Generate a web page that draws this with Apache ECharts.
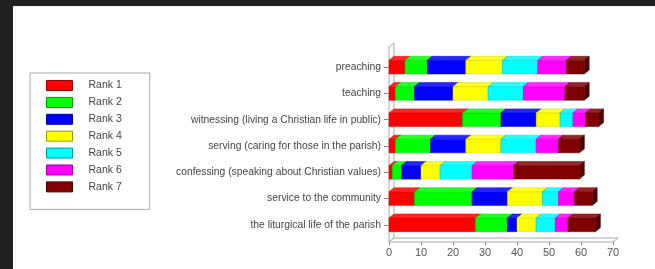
<!DOCTYPE html>
<html>
<head>
<meta charset="utf-8">
<script src="https://cdn.jsdelivr.net/npm/echarts@6/dist/echarts.min.js"></script>
<style>
  html, body { margin: 0; padding: 0; background: #202020; }
  #paper { position: absolute; left: 13px; top: 6px; width: 642px; height: 263px; background: #fff; }
  #main { position: absolute; left: 0; top: 0; width: 655px; height: 269px; }
</style>
</head>
<body>
<div id="paper"></div>
<div id="main"></div>
<script>
var categories = [
  'preaching',
  'teaching',
  'witnessing (living a Christian life in public)',
  'serving (caring for those in the parish)',
  'confessing (speaking about Christian values)',
  'service to the community',
  'the liturgical life of the parish'
];
var rank1 = [5, 2, 23, 2, 1, 8, 27];
var rank2 = [7, 6, 12, 11, 3, 18, 10];
var rank3 = [12, 12, 11, 11, 6, 11, 3];
var rank4 = [11.5, 11, 7.5, 11, 6, 11, 6];
var rank5 = [11, 11, 4, 11, 10, 5, 6];
var rank6 = [9, 13, 4, 7, 13, 5, 4];
var rank7 = [5.5, 6, 4, 6.5, 20.5, 5.5, 8.5];
var rankNames = ['Rank 1', 'Rank 2', 'Rank 3', 'Rank 4', 'Rank 5', 'Rank 6', 'Rank 7'];
var colors = ['#ff0000', '#00ff00', '#0000ff', '#ffff00', '#00ffff', '#ff00ff', '#800000'];
var xTicks = [0, 10, 20, 30, 40, 50, 60, 70];

var DX = 5, DY = 4;  // depth of the fake 3d

function shade(hex, k) {
  var n = parseInt(hex.slice(1), 16);
  var r = (n >> 16) & 255, g = (n >> 8) & 255, b = n & 255;
  function f(c) { return Math.max(0, Math.min(255, Math.round(k > 0 ? c + (255 - c) * k : c * (1 + k)))); }
  return 'rgb(' + f(r) + ',' + f(g) + ',' + f(b) + ')';
}

var myChart = echarts.init(document.getElementById('main'));

var allRanks = [rank1, rank2, rank3, rank4, rank5, rank6, rank7];
var base = categories.map(function () { return 0; });
var series = [];

// wall + floor drawn from the grid rect
series.push({
  type: 'custom',
  silent: true,
  z: 1,
  data: [[0, 0]],
  renderItem: function (params, api) {
    var cs = params.coordSys;
    var x = cs.x, y = cs.y - 7, b = cs.y + cs.height + 4, r = cs.x + cs.width;
    var st = { fill: '#fafafa', stroke: '#aaa', lineWidth: 1 };
    return {
      type: 'group',
      children: [
        { type: 'polygon', shape: { points: [[x, y], [x + DX, y - DY], [x + DX, b - DY], [x, b]] }, style: st },
        { type: 'polygon', shape: { points: [[x, b], [x + DX, b - DY], [r + DX, b - DY], [r, b]] }, style: st }
      ]
    };
  }
});

allRanks.forEach(function (vals, si) {
  var col = colors[si];
  var data = vals.map(function (v, ci) {
    var d = [v, ci, base[ci]];
    base[ci] += v;
    return d;
  });
  series.push({
    name: rankNames[si],
    type: 'custom',
    z: 2,
    itemStyle: { color: col },
    data: data,
    renderItem: function (params, api) {
      var v = api.value(0), c = api.value(1), s = api.value(2);
      var p0 = api.coord([s, c]);
      var p1 = api.coord([s + v, c]);
      var h = api.size([0, 1])[1] * 0.52;
      var y0 = p0[1] - h / 2;
      var x0 = p0[0], x1 = p1[0];
      return {
        type: 'group',
        children: [
          { type: 'rect', shape: { x: x0, y: y0, width: x1 - x0, height: h },
            style: { fill: col, stroke: shade(col, -0.15), lineWidth: 0.5 } },
          { type: 'polygon', shape: { points: [[x0, y0], [x0 + DX, y0 - DY], [x1 + DX, y0 - DY], [x1, y0]] },
            style: { fill: shade(col, 0.15), stroke: shade(col, -0.15), lineWidth: 0.5 } },
          { type: 'polygon', shape: { points: [[x1, y0], [x1 + DX, y0 - DY], [x1 + DX, y0 + h - DY], [x1, y0 + h]] },
            style: { fill: shade(col, -0.35), stroke: shade(col, -0.45), lineWidth: 0.5 } }
        ]
      };
    }
  });
});

var option = {
  animation: false,
  textStyle: { fontFamily: 'Liberation Sans' },
  legend: {
    orient: 'vertical',
    left: 30,
    top: 73,
    padding: [7, 28, 17, 16],
    itemGap: 5.9,
    itemWidth: 26,
    itemHeight: 10,
    borderColor: '#aaa',
    borderWidth: 1,
    selectedMode: false,
    data: rankNames.map(function (n, i) {
      return { name: n, icon: 'rect', itemStyle: { color: colors[i], borderColor: shade(colors[i], -0.4), borderWidth: 1 } };
    }),
    textStyle: { fontSize: 10.5, color: '#444', lineHeight: 10, height: 10, padding: [0, 0, 0, 11], fontFamily: 'Liberation Sans' }
  },
  grid: { left: 389, right: 42, top: 54, bottom: 31 },
  xAxis: {
    type: 'value',
    min: xTicks[0],
    max: xTicks[xTicks.length - 1],
    interval: 10,
    offset: 4,
    splitLine: { show: false },
    axisLine: { show: false },
    axisTick: { show: true, length: 3, lineStyle: { color: '#888' } },
    axisLabel: { fontSize: 11, color: '#555', margin: 5, fontFamily: 'Liberation Sans' }
  },
  yAxis: {
    type: 'category',
    inverse: true,
    data: categories,
    axisLine: { show: false },
    axisTick: { show: true, length: 5, alignWithLabel: true, lineStyle: { color: '#888' } },
    axisLabel: { fontSize: 10.3, color: '#444', margin: 8, fontFamily: 'Liberation Sans' }
  },
  series: series
};

myChart.setOption(option);
window.onresize = myChart.resize;
</script>
</body>
</html>
